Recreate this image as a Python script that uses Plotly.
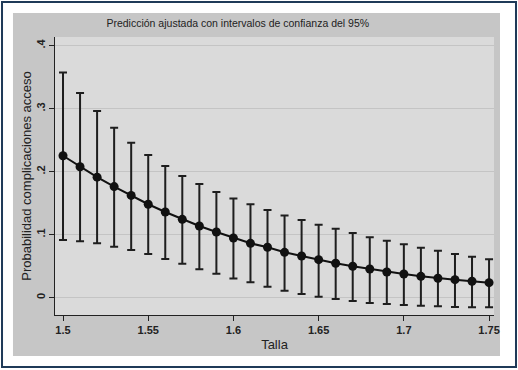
import plotly.graph_objects as go

# Data
talla = [1.50, 1.51, 1.52, 1.53, 1.54, 1.55, 1.56, 1.57, 1.58, 1.59,
         1.60, 1.61, 1.62, 1.63, 1.64, 1.65, 1.66, 1.67, 1.68, 1.69,
         1.70, 1.71, 1.72, 1.73, 1.74, 1.75]
prob = [0.225, 0.2076, 0.191, 0.176, 0.162, 0.148, 0.1357, 0.124, 0.1135, 0.104,
        0.0944, 0.086, 0.0797, 0.0717, 0.0659, 0.060, 0.0543, 0.0495, 0.0452, 0.0405,
        0.0373, 0.0336, 0.0305, 0.0283, 0.0257, 0.0235]
upper = [0.357, 0.3246, 0.296, 0.2696, 0.2457, 0.226, 0.2087, 0.193, 0.180, 0.1675,
         0.157, 0.148, 0.139, 0.130, 0.123, 0.1156, 0.109, 0.1024, 0.0955, 0.090,
         0.0844, 0.079, 0.0743, 0.069, 0.0648, 0.0606]
lower = [0.0913, 0.0892, 0.086, 0.0807, 0.0754, 0.069, 0.061, 0.0537, 0.045, 0.0378,
         0.030, 0.024, 0.0171, 0.0108, 0.0056, 0.0013, -0.0024, -0.0056, -0.0087, -0.0103,
         -0.0119, -0.013, -0.014, -0.015, -0.0156, -0.0156]

x_ticks = [1.5, 1.55, 1.6, 1.65, 1.7, 1.75]
x_ticktext = ["1.5", "1.55", "1.6", "1.65", "1.7", "1.75"]
y_ticks = [0, 0.1, 0.2, 0.3, 0.4]
y_ticktext = ["0", ".1", ".2", ".3", ".4"]

title_text = "Predicción ajustada con intervalos de confianza del 95%"
x_title = "Talla"
y_title = "Probabilidad complicaciones acceso"

err_plus = [u - p for u, p in zip(upper, prob)]
err_minus = [p - l for p, l in zip(prob, lower)]

FONT = "Liberation Sans, Arial, sans-serif"

fig = go.Figure()
fig.add_trace(go.Scatter(
    x=talla, y=prob, mode="lines+markers",
    line=dict(color="#111111", width=2),
    marker=dict(color="#111111", size=9),
    error_y=dict(type="data", symmetric=False, array=err_plus, arrayminus=err_minus,
                 color="#1e1e1e", thickness=2, width=4),
    showlegend=False, hoverinfo="x+y",
))

# Background panels (paper coordinates; plot area spans 0..1)
fig.add_shape(type="rect", xref="paper", yref="paper",
              x0=-0.1207, x1=1.0501, y0=-0.187, y1=1.1259,
              line=dict(color="#1f3a58", width=2), fillcolor="white", layer="below")
fig.add_shape(type="rect", xref="paper", yref="paper",
              x0=-0.0957, x1=1.0137, y0=-0.1475, y1=1.0863,
              line=dict(width=0), fillcolor="#c6c6c6", layer="below")
fig.add_shape(type="rect", xref="paper", yref="paper",
              x0=0, x1=1, y0=0, y1=1,
              line=dict(width=0), fillcolor="#dadada", layer="below")

fig.update_layout(
    width=518, height=370,
    margin=dict(l=55, r=24, t=37, b=55),
    paper_bgcolor="white",
    plot_bgcolor="rgba(0,0,0,0)",
    font=dict(family=FONT, color="#222222"),
    title=dict(text=title_text, x=0.459, xanchor="center", xref="container",
               y=1 - 23 / 370, yanchor="middle", yref="container",
               font=dict(size=10.5, color="#222222", family=FONT)),
    xaxis=dict(
        range=[1.4953, 1.7529], tickmode="array", tickvals=x_ticks, ticktext=x_ticktext,
        ticks="outside", ticklen=5, tickwidth=1, tickcolor="#222222",
        showline=True, linecolor="#222222", linewidth=1,
        showgrid=False, zeroline=False,
        tickfont=dict(size=11, weight="bold", color="#222222"),
        title=dict(text=x_title, font=dict(size=13, color="#222222"), standoff=4),
    ),
    yaxis=dict(
        range=[-0.0278, 0.4135], tickmode="array", tickvals=y_ticks, ticktext=y_ticktext,
        tickangle=-90,
        ticks="outside", ticklen=5, tickwidth=1, tickcolor="#222222",
        showline=True, linecolor="#222222", linewidth=1,
        showgrid=True, gridcolor="#c4c4c4", gridwidth=1, zeroline=False,
        tickfont=dict(size=11, weight="bold", color="#222222"),
        title=dict(text=y_title, font=dict(size=13, color="#222222"), standoff=0),
    ),
)

fig.write_html("out.html",
               config={"displayModeBar": False},
               post_script="document.body.style.margin='0';document.body.style.overflow='hidden';")
